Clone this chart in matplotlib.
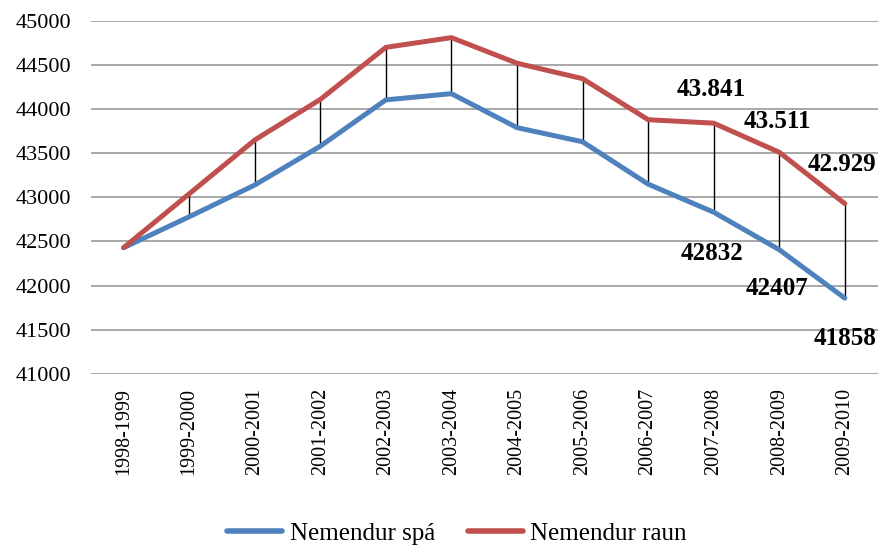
import matplotlib
matplotlib.use("Agg")
import matplotlib.pyplot as plt
import numpy as np

categories = ["1998-1999", "1999-2000", "2000-2001", "2001-2002", "2002-2003", "2003-2004",
              "2004-2005", "2005-2006", "2006-2007", "2007-2008", "2008-2009", "2009-2010"]
spa = [42430, 42780, 43140, 43580, 44105, 44175, 43790, 43630, 43150, 42832, 42407, 41858]
raun = [42430, 43040, 43650, 44110, 44700, 44810, 44520, 44345, 43880, 43841, 43511, 42929]
raun_labels = {9: "43.841", 10: "43.511", 11: "42.929"}
spa_labels = {9: "42832", 10: "42407", 11: "41858"}

plt.rcParams['font.family'] = ['Liberation Serif', 'DejaVu Serif']

fig = plt.figure(figsize=(8.82, 5.49), dpi=100)
ax = fig.add_axes([0.103, 0.319, 0.892, 0.643])

x = np.arange(len(categories))
ax.vlines(x, spa, raun, colors='black', linewidth=1.0, zorder=2)
ax.plot(x, spa, color='#4F81BD', linewidth=3.6, label='Nemendur spá', zorder=3, solid_capstyle='round')
ax.plot(x, raun, color='#C0504D', linewidth=3.6, label='Nemendur raun', zorder=3, solid_capstyle='round')

ax.set_xlim(-0.5, len(categories) - 0.5)
ax.set_ylim(41000, 45000)
ax.set_yticks(np.arange(41000, 45001, 500))
ax.set_yticklabels([str(v) for v in range(41000, 45001, 500)], fontsize=16)
ax.set_xticks(x)
ax.set_xticklabels(categories, rotation=90, fontsize=14.5)
ax.tick_params(axis='both', length=0)
ax.tick_params(axis='y', pad=14)
ax.tick_params(axis='x', pad=10)
ax.grid(axis='y', color='#9a9a9a', linewidth=1.2)
ax.set_axisbelow(True)
for s in ax.spines.values():
    s.set_visible(False)

raun_off = {9: (-2, 34), 10: (-2, 31), 11: (-3, 39)}
for i, lab in raun_labels.items():
    ax.annotate(lab, (x[i], raun[i]), xytext=raun_off[i], textcoords='offset pixels',
                ha='center', va='center', fontsize=18, fontweight='bold', annotation_clip=False)
spa_off = {9: (-1.5, -41), 10: (-2, -39), 11: (0, -40)}
for i, lab in spa_labels.items():
    ax.annotate(lab, (x[i], spa[i]), xytext=spa_off[i], textcoords='offset pixels',
                ha='center', va='center', fontsize=18, fontweight='bold', annotation_clip=False)

leg = fig.legend(loc='center', bbox_to_anchor=(0.518, 0.028), ncol=2, frameon=False,
                 fontsize=18, handlelength=2.2, columnspacing=1.3, handletextpad=0.3)
for h in leg.get_lines():
    h.set_linewidth(4.0)

fig.savefig("out.png", dpi=100)
